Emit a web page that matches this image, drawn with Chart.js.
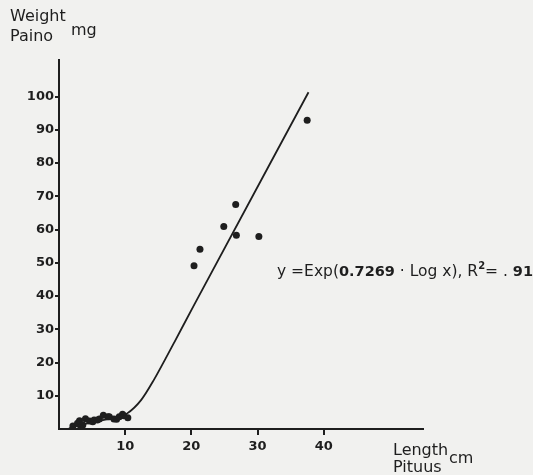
<!DOCTYPE html>
<html>
<head>
<meta charset="utf-8">
<script src="https://cdn.jsdelivr.net/npm/chart.js@4/dist/chart.umd.min.js"></script>
<style>
  html, body { margin: 0; padding: 0; background: #f1f1ef; }
  #wrap { width: 533px; height: 475px; }
</style>
</head>
<body>
<div id="wrap"><canvas id="myChart" width="533" height="475"></canvas></div>
<script>
'use strict';

// observed fish, length (cm) and weight (mg)
var lengthObs = [2.1, 2.8, 3.1, 3.3, 3.6, 4.0, 4.6, 5.1, 5.3, 5.8, 6.1, 6.7, 7.4, 7.6, 8.3, 8.7, 9.1, 9.6, 9.8, 10.4,
                 20.4, 21.3, 24.9, 26.8, 26.7, 30.2, 37.5];
var weightObs = [0.9, 1.7, 2.5, 0.6, 1.2, 3.1, 2.4, 2.2, 2.7, 2.7, 3.0, 4.1, 3.7, 3.7, 3.0, 2.9, 3.7, 4.4, 4.0, 3.4,
                 49.1, 54.1, 60.9, 58.3, 67.5, 57.9, 92.9];

// fitted curve as drawn
var fitLength = [1.5, 3, 5, 7, 9, 10.3, 12.4, 14.4, 16, 17.4, 20.3, 37.7];
var fitWeight = [0.2, 1.0, 2.0, 2.8, 3.7, 4.7, 8.7, 15.0, 20.8, 26.0, 36.9, 101.3];

var yTicks = [10, 20, 30, 40, 50, 60, 70, 80, 90, 100];
var xTicks = [10, 20, 30, 40];

function pairs(xs, ys) {
  var out = [];
  for (var i = 0; i < xs.length; i++) {
    out.push({x: xs[i], y: ys[i]});
  }
  return out;
}

var ink = '#1e1e1e';

// titles and the equation, drawn as text
var labelsPlugin = {
  id: 'labels',
  beforeDraw: function(chart) {
    var c = chart.ctx;
    c.save();
    c.fillStyle = '#f1f1ef';
    c.fillRect(0, 0, chart.width, chart.height);
    c.restore();
  },
  afterDraw: function(chart) {
    var c = chart.ctx;
    c.save();
    c.fillStyle = ink;
    c.textBaseline = 'alphabetic';
    c.font = '16px "DejaVu Sans"';
    c.fillText('Weight', 10, 21);
    c.fillText('Paino', 10, 41);
    c.fillText('mg', 71, 35);
    c.fillText('Length', 393, 455);
    c.fillText('Pituus', 393, 472);
    c.fillText('cm', 449, 463);

    // y =Exp(0.7269 · Log x), R² = . 91
    var x = 277, base = 276;
    var parts = [
      ['y =Exp(', '15.5px "DejaVu Sans"'],
      ['0.7269', 'bold 14.5px "DejaVu Sans"'],
      [' \u00b7 Log x), R', '15.5px "DejaVu Sans"'],
      ['2', 'bold 10px "DejaVu Sans"', -7],
      ['= . ', '15.5px "DejaVu Sans"'],
      ['91', 'bold 14.5px "DejaVu Sans"']
    ];
    parts.forEach(function(p) {
      c.font = p[1];
      c.fillText(p[0], x, base + (p[2] || 0));
      x += c.measureText(p[0]).width;
    });
    c.restore();
  }
};

var ctx = document.getElementById('myChart').getContext('2d');

var myChart = new Chart(ctx, {
  type: 'scatter',
  data: {
    datasets: [{
      label: 'fit',
      type: 'line',
      data: pairs(fitLength, fitWeight),
      borderColor: ink,
      borderWidth: 1.8,
      pointRadius: 0,
      fill: false,
      cubicInterpolationMode: 'monotone'
    }, {
      label: 'observed',
      data: pairs(lengthObs, weightObs),
      backgroundColor: ink,
      borderColor: ink,
      pointRadius: 3.5,
      borderWidth: 0
    }]
  },
  options: {
    responsive: false,
    animation: false,
    events: [],
    layout: {padding: {left: 0, top: 60, right: 110, bottom: 16}},
    plugins: {
      legend: {display: false},
      tooltip: {enabled: false}
    },
    scales: {
      x: {
        type: 'linear',
        min: 0,
        max: 55,
        afterBuildTicks: function(scale) {
          scale.ticks = xTicks.map(function(v) { return {value: v}; });
        },
        afterFit: function(scale) { scale.height = 30; },
        border: {display: true, color: ink, width: 2},
        grid: {drawOnChartArea: false, drawTicks: true, tickLength: 6, color: ink, lineWidth: 2},
        ticks: {
          color: ink,
          padding: 4,
          maxRotation: 0,
          font: {family: 'DejaVu Sans', size: 13, weight: 'bold'}
        }
      },
      y: {
        type: 'linear',
        min: 0,
        max: 111,
        afterBuildTicks: function(scale) {
          scale.ticks = yTicks.map(function(v) { return {value: v}; });
        },
        afterFit: function(scale) { scale.width = 59; },
        border: {display: true, color: ink, width: 2},
        grid: {drawOnChartArea: false, drawTicks: true, tickLength: 4, color: ink, lineWidth: 2},
        ticks: {
          color: ink,
          padding: 1,
          font: {family: 'DejaVu Sans', size: 13, weight: 'bold'}
        }
      }
    }
  },
  plugins: [labelsPlugin]
});
</script>
</body>
</html>
